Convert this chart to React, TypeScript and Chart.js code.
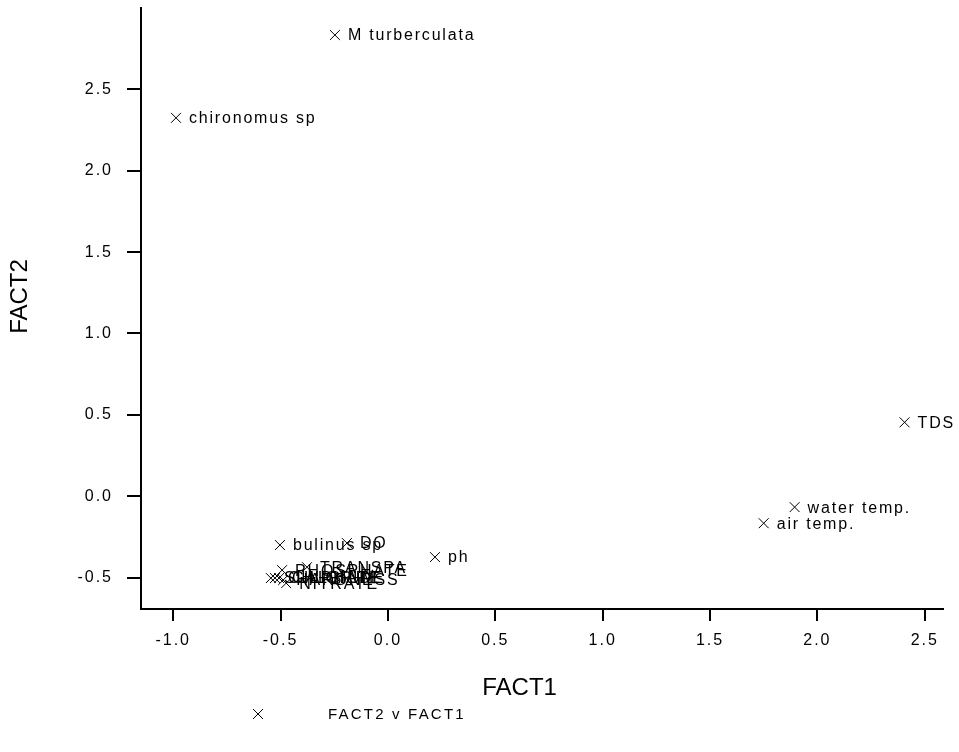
import React, { useEffect, useRef } from "react";
import { Chart, registerables } from "chart.js";

Chart.register(...registerables);

const pointLabels = [
  "M turberculata",
  "chironomus sp",
  "TDS",
  "water temp.",
  "air temp.",
  "ph",
  "DO",
  "bulinus sp",
  "TRANSPA",
  "PHOSPHATE",
  "SULPHATE",
  "CHLORIDE",
  "CALCIUM",
  "HARDNESS",
  "NITRATE",
];
const xValues = [-0.247, -0.987, 2.406, 1.894, 1.75, 0.219, -0.191, -0.503, -0.377, -0.493, -0.545, -0.526, -0.507, -0.488, -0.474];
const yValues = [2.834, 2.325, 0.454, -0.067, -0.166, -0.374, -0.288, -0.3, -0.436, -0.454, -0.503, -0.503, -0.503, -0.515, -0.534];
const xTicks = [-1.0, -0.5, 0.0, 0.5, 1.0, 1.5, 2.0, 2.5];
const yTicks = [-0.5, 0.0, 0.5, 1.0, 1.5, 2.0, 2.5];
const xTitle = "FACT1";
const yTitle = "FACT2";
const legendText = "FACT2 v FACT1";

const FONT = '"Liberation Sans", Arial, Helvetica, sans-serif';

const textPlugin = {
  id: "textPlugin",
  beforeDraw(chart: any) {
    chart.ctx.letterSpacing = "2px";
  },
  afterDraw(chart: any) {
    const ctx = chart.ctx;
    const meta = chart.getDatasetMeta(0);
    const area = chart.chartArea;
    ctx.save();
    ctx.fillStyle = "#000";
    ctx.strokeStyle = "#000";
    ctx.textBaseline = "middle";
    ctx.textAlign = "left";
    ctx.letterSpacing = "1.8px";
    ctx.font = `16px ${FONT}`;
    meta.data.forEach((el: any, i: number) => {
      ctx.fillText(pointLabels[i], el.x + 13, el.y + 1);
    });

    // axis titles
    ctx.letterSpacing = "0px";
    ctx.font = `24px ${FONT}`;
    ctx.textAlign = "center";
    ctx.fillText(xTitle, area.left + (area.right - area.left) * 0.472, 688);
    ctx.save();
    ctx.translate(20, area.top + (area.bottom - area.top) * 0.48);
    ctx.rotate(-Math.PI / 2);
    ctx.fillText(yTitle, 0, 0);
    ctx.restore();

    // legend
    const lx = 258;
    const ly = 714;
    ctx.lineWidth = 1;
    ctx.beginPath();
    ctx.moveTo(lx - 5, ly - 5);
    ctx.lineTo(lx + 5, ly + 5);
    ctx.moveTo(lx + 5, ly - 5);
    ctx.lineTo(lx - 5, ly + 5);
    ctx.stroke();
    ctx.letterSpacing = "2.2px";
    ctx.font = `15px ${FONT}`;
    ctx.textAlign = "left";
    ctx.fillText(legendText, 328, ly + 1);
    ctx.restore();
  },
};

export default function App() {
  const ref = useRef<HTMLCanvasElement | null>(null);
  useEffect(() => {
    if (!ref.current) return;
    const chart = new Chart(ref.current, {
      type: "scatter",
      data: {
        datasets: [
          {
            label: legendText,
            data: xValues.map((x, i) => ({ x, y: yValues[i] })),
            pointStyle: "crossRot",
            pointRadius: 7,
            pointHoverRadius: 7,
            borderColor: "#000",
            backgroundColor: "#000",
            borderWidth: 1,
          },
        ],
      },
      options: {
        animation: false,
        responsive: true,
        maintainAspectRatio: false,
        layout: { padding: { top: 7, right: 16, left: 0, bottom: 0 } },
        plugins: {
          legend: { display: false },
          tooltip: { enabled: false },
        },
        scales: {
          x: {
            type: "linear",
            min: -1.15,
            max: 2.585,
            afterBuildTicks: (s: any) => {
              s.ticks = xTicks.map((v) => ({ value: v }));
            },
            afterFit: (s: any) => {
              s.height = 143;
              s.paddingLeft = 0;
              s.paddingRight = 0;
            },
            grid: {
              display: true,
              drawOnChartArea: false,
              drawTicks: true,
              tickLength: 12,
              color: "#000",
              lineWidth: 2,
            },
            border: { display: true, color: "#000", width: 2 },
            ticks: {
              color: "#000",
              font: { family: FONT, size: 16 },
              padding: 10,
              maxRotation: 0,
              autoSkip: false,
              callback: (v: any) => Number(v).toFixed(1),
            },
          },
          y: {
            type: "linear",
            min: -0.693,
            max: 3.0,
            afterBuildTicks: (s: any) => {
              s.ticks = yTicks.map((v) => ({ value: v }));
            },
            afterFit: (s: any) => {
              s.width = 141;
              s.paddingTop = 0;
              s.paddingBottom = 0;
            },
            grid: {
              display: true,
              drawOnChartArea: false,
              drawTicks: true,
              tickLength: 14,
              color: "#000",
              lineWidth: 2,
            },
            border: { display: true, color: "#000", width: 2 },
            ticks: {
              color: "#000",
              font: { family: FONT, size: 16 },
              padding: 14,
              autoSkip: false,
              callback: (v: any) => Number(v).toFixed(1),
            },
          },
        },
      },
      plugins: [textPlugin],
    });
    return () => chart.destroy();
  }, []);
  return (
    <div style={{ position: "fixed", left: 0, top: 0, width: 959, height: 752, background: "#fff" }}>
      <canvas ref={ref} />
    </div>
  );
}
